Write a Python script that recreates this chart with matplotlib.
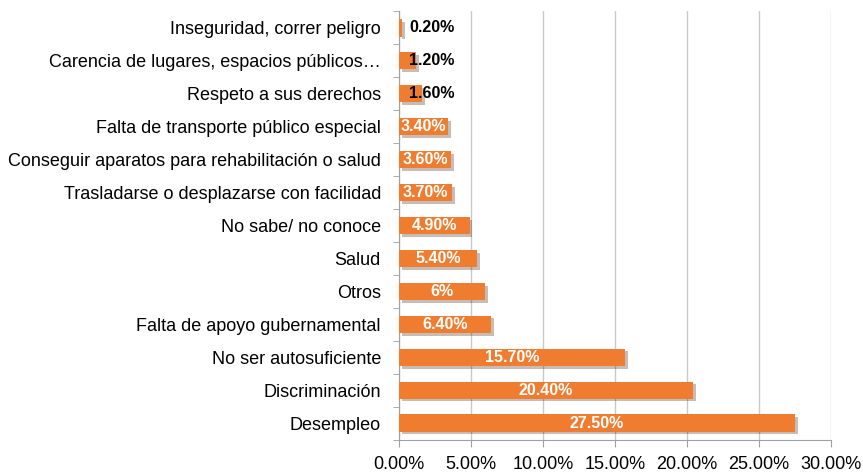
import matplotlib.pyplot as plt
import matplotlib.patheffects as pe
from matplotlib.ticker import FuncFormatter, MultipleLocator

plt.rcParams['font.family'] = ['Liberation Sans', 'DejaVu Sans']

# categories from top to bottom
categories = [
    "Inseguridad, correr peligro",
    "Carencia de lugares, espacios públicos…",
    "Respeto a sus derechos",
    "Falta de transporte público especial",
    "Conseguir aparatos para rehabilitación o salud",
    "Trasladarse o desplazarse con facilidad",
    "No sabe/ no conoce",
    "Salud",
    "Otros",
    "Falta de apoyo gubernamental",
    "No ser autosuficiente",
    "Discriminación",
    "Desempleo",
]
values = [0.2, 1.2, 1.6, 3.4, 3.6, 3.7, 4.9, 5.4, 6.0, 6.4, 15.7, 20.4, 27.5]
labels = ["0.20%", "1.20%", "1.60%", "3.40%", "3.60%", "3.70%", "4.90%",
          "5.40%", "6%", "6.40%", "15.70%", "20.40%", "27.50%"]

fig = plt.figure(figsize=(8.63, 4.73), dpi=100)
ax = fig.add_axes([0.4623, 0.0708, 0.5007, 0.9049])

y = list(range(len(categories)))[::-1]
bars = ax.barh(y, values, height=0.52, color="#F07C30", zorder=3)
for b in bars:
    b.set_path_effects([pe.SimplePatchShadow(offset=(2, -2), alpha=0.3), pe.Normal()])

# small bars: black label sitting just past the bar, others white in the middle
for yi, v, lab in zip(y, values, labels):
    dark = v < 3
    ax.text(2.3 if dark else v / 2, yi, lab, ha="center", va="center",
            fontsize=11.5, fontweight="bold",
            color="black" if dark else "white", zorder=4)

ax.set_xlim(0, 30)
ax.set_ylim(-0.5, len(categories) - 0.5)
ax.xaxis.set_major_locator(MultipleLocator(5))
ax.xaxis.set_major_formatter(FuncFormatter(lambda x, p: f"{x:.2f}%"))
ax.grid(axis="x", color="#C8C8C8", linewidth=1, zorder=0)

ax.set_yticks(y)
ax.set_yticklabels(categories, fontsize=13)
ax.set_yticks([i + 0.5 for i in range(-1, len(categories))], minor=True)
ax.tick_params(axis="y", which="major", length=0, pad=13)
ax.tick_params(axis="y", which="minor", length=4, color="#A0A0A0")
ax.tick_params(axis="x", length=5, color="#A0A0A0", labelsize=13, pad=7)

for s in ["top", "right"]:
    ax.spines[s].set_visible(False)
ax.spines["left"].set_color("#A0A0A0")
ax.spines["bottom"].set_color("#A0A0A0")

fig.savefig("out.png", dpi=100)
